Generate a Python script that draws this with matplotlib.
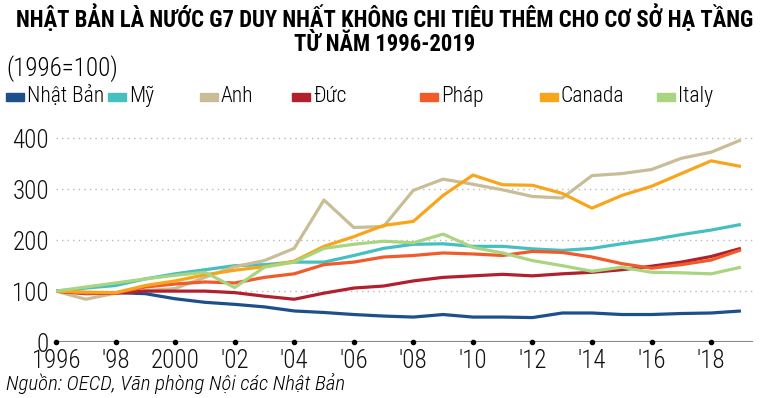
import matplotlib.pyplot as plt
from matplotlib import font_manager as fm
from matplotlib.patches import Rectangle

years = list(range(1996, 2020))

japan   = [100, 97, 97, 95, 85, 78, 74, 69, 61, 58, 54, 51, 49, 54, 49, 49, 48, 57, 57, 54, 54, 56, 57, 61]
usa     = [100, 106, 111, 124, 134, 142, 150, 152, 157, 157, 170, 184, 192, 193, 188, 188, 183, 180, 184, 193, 201, 211, 220, 231]
uk      = [100, 84, 96, 101, 105, 127, 148, 160, 184, 279, 225, 227, 298, 320, 310, 299, 286, 283, 327, 331, 339, 361, 373, 397]
germany = [100, 95, 96, 100, 100, 100, 97, 90, 84, 96, 106, 110, 120, 127, 130, 133, 130, 134, 137, 142, 149, 157, 168, 184]
france  = [100, 96, 96, 108, 114, 118, 116, 127, 134, 152, 157, 167, 170, 175, 173, 170, 178, 176, 167, 154, 145, 152, 161, 181]
canada  = [100, 98, 97, 111, 120, 132, 141, 148, 159, 188, 207, 229, 237, 288, 328, 309, 308, 292, 263, 288, 306, 331, 356, 345]
italy   = [100, 108, 116, 124, 131, 137, 107, 147, 157, 184, 192, 198, 195, 212, 186, 175, 160, 150, 139, 147, 137, 136, 134, 147]

names  = ["Nhật Bản", "Mỹ", "Anh", "Đức", "Pháp", "Canada", "Italy"]
series = [japan, usa, uk, germany, france, canada, italy]
colors = ["#1d4f8b", "#45bfc0", "#c9bd98", "#b1202c", "#f15a29", "#f9a51b", "#a9d581"]

tick_years  = list(range(1996, 2019, 2))
tick_labels = ["1996", "'98", "2000", "'02", "'04", "'06", "'08", "'10", "'12", "'14", "'16", "'18"]

# pick a narrow font if one is there
have = set(f.name for f in fm.fontManager.ttflist)
main = "DejaVu Sans"
for cand in ["Roboto Condensed", "Archivo Narrow", "Liberation Sans Narrow", "Open Sans Condensed"]:
    if cand in have:
        main = cand
        break
plt.rcParams["font.family"] = [main, "DejaVu Sans"]

fig = plt.figure(figsize=(7.7, 3.98), dpi=100)
ax = fig.add_axes([0.0727, 0.1407, 0.905, 0.537])

for vals, c in zip(series, colors):
    ax.plot(years, vals, color=c, lw=2.3, solid_capstyle="butt")

ax.set_xlim(1996, 2019.4)
ax.set_ylim(0, 420)
for v in [100, 200, 300, 400]:
    ax.axhline(v, color="#b8b8b8", lw=1, ls=(0, (1, 3)), zorder=0)
ax.axhline(0, color="#888888", lw=1.5, zorder=1)
ax.plot(tick_years, [0] * len(tick_years), "o", color="black", ms=3, clip_on=False, zorder=3)

for s in ax.spines.values():
    s.set_visible(False)
ax.set_yticks([0, 100, 200, 300, 400])
ax.set_xticks(tick_years)
ax.set_xticklabels(tick_labels)
ax.tick_params(length=0, labelsize=18, colors="#111111")
ax.tick_params(axis="y", pad=5)
ax.tick_params(axis="x", pad=5)
for lab in ax.get_xticklabels() + ax.get_yticklabels():
    lab.set_fontweight("light")

fig.text(0.5, 0.955, "NHẬT BẢN LÀ NƯỚC G7 DUY NHẤT KHÔNG CHI TIÊU THÊM CHO CƠ SỞ HẠ TẦNG",
         ha="center", va="center", fontsize=16.3, fontweight="bold")
fig.text(0.5, 0.887, "TỪ NĂM 1996-2019", ha="center", va="center", fontsize=16.3, fontweight="bold")
fig.text(0.008, 0.828, "(1996=100)", ha="left", va="center", fontsize=18, fontweight="light")

# legend row
leg_x = [6, 108, 200, 292, 420, 540, 657]
for x, n, c in zip(leg_x, names, colors):
    fig.patches.append(Rectangle((x / 770, 0.747), 18 / 770, 8 / 398, color=c, transform=fig.transFigure))
    fig.text((x + 21) / 770, 0.757, n, ha="left", va="center", fontsize=15.5, fontweight="light")

fig.text(0.008, 0.037, "Nguồn: OECD, Văn phòng Nội các Nhật Bản", ha="left", va="center",
         fontsize=15, style="italic", fontweight="light")

fig.savefig("out.png", dpi=100, facecolor="white")
